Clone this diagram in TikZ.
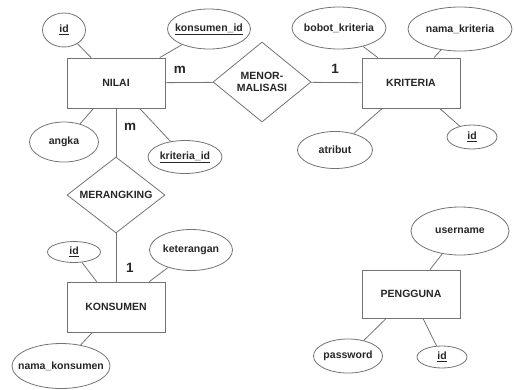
\documentclass[tikz,border=0pt]{standalone}
\usepackage{fontspec}
\setmainfont{Liberation Sans}
\usetikzlibrary{shapes.geometric}

\begin{document}
\begin{tikzpicture}[x=1pt, y=-1pt, align=center, font=\fontsize{10.5}{12.5}\selectfont\bfseries,
    entity/.style={draw=black!55, line width=0.8pt, rectangle, minimum width=98pt, minimum height=50pt, inner sep=0pt, text=black!85},
    attr/.style={draw=black!55, line width=0.8pt, ellipse, inner xsep=-30pt, inner ysep=-10pt, text=black!85},
    rel/.style={draw=black!55, line width=0.8pt, diamond, aspect=1.2, inner sep=0pt, minimum width=98pt, text=black!85},
    card/.style={font=\fontsize{13.5}{15}\selectfont\bfseries, text=black!85},
    link/.style={draw=black!55, line width=0.8pt}]
      \useasboundingbox (0,0) rectangle (514,389);
      %
      \node[entity] (NILAI) at (116,83) {NILAI};
      \node[entity] (KRITERIA) at (411,83) {KRITERIA};
      \node[entity] (KONSUMEN) at (116,307) {KONSUMEN};
      \node[entity, minimum height=48pt] (PENGGUNA) at (411,294) {PENGGUNA};
      %
      \node[rel, minimum height=80pt] (MENOR) at (262,82) {MENOR-\\MALISASI};
      \node[rel, minimum height=76pt] (MERANG) at (116,195) {MERANGKING};
      %
      \node[attr, minimum width=43pt, minimum height=34pt] (NIid) at (64,30) {\underline{id}};
      \node[attr, minimum width=83pt, minimum height=40pt] (NIkons) at (209,29) {\underline{konsumen\_id}};
      \node[attr, minimum width=69pt, minimum height=40pt] (NIangka) at (64,142) {angka};
      \node[attr, minimum width=74pt, minimum height=33pt] (NIkrit) at (185,157) {\underline{kriteria\_id}};
      %
      \node[attr, minimum width=94pt, minimum height=42pt] (KRbobot) at (339,28) {bobot\_kriteria};
      \node[attr, minimum width=104pt, minimum height=44pt] (KRnama) at (460,29) {nama\_kriteria};
      \node[attr, minimum width=75pt, minimum height=37pt] (KRatr) at (335,150) {atribut};
      \node[attr, minimum width=50pt, minimum height=24pt] (KRid) at (472,137) {\underline{id}};
      %
      \node[attr, minimum width=53pt, minimum height=21pt] (KOid) at (74,252) {\underline{id}};
      \node[attr, minimum width=83pt, minimum height=41pt] (KOket) at (191,250) {keterangan};
      \node[attr, minimum width=98pt, minimum height=45pt] (KOnama) at (61,366) {nama\_konsumen};
      %
      \node[attr, minimum width=98pt, minimum height=48pt] (PEuser) at (460,231) {username};
      \node[attr, minimum width=69pt, minimum height=34pt] (PEpass) at (348,356) {password};
      \node[attr, minimum width=50pt, minimum height=22pt] (PEid) at (442,357) {\underline{id}};
      %
      \node[card] (C1) at (180,70) {m};
      \node[card] (C2) at (130,127) {m};
      \node[card] (C3) at (335,69) {1};
      \node[card] (C4) at (130,268) {1};
      %
      \draw[link] (NILAI) -- (MENOR);
      \draw[link] (MENOR) -- (KRITERIA);
      \draw[link] (NILAI) -- (MERANG);
      \draw[link] (MERANG) -- (KONSUMEN);
      %
      \draw[link] (NILAI) -- (NIid);
      \draw[link] (NILAI) -- (NIkons);
      \draw[link] (NILAI) -- (NIangka);
      \draw[link] (NILAI) -- (NIkrit);
      \draw[link] (KRITERIA) -- (KRbobot);
      \draw[link] (KRITERIA) -- (KRnama);
      \draw[link] (KRITERIA) -- (KRatr);
      \draw[link] (KRITERIA) -- (KRid);
      \draw[link] (KONSUMEN) -- (KOid);
      \draw[link] (KONSUMEN) -- (KOket);
      \draw[link] (KONSUMEN) -- (KOnama);
      \draw[link] (PENGGUNA) -- (PEuser);
      \draw[link] (PENGGUNA) -- (PEpass);
      \draw[link] (PENGGUNA) -- (PEid);
    \end{tikzpicture}
\end{document}
